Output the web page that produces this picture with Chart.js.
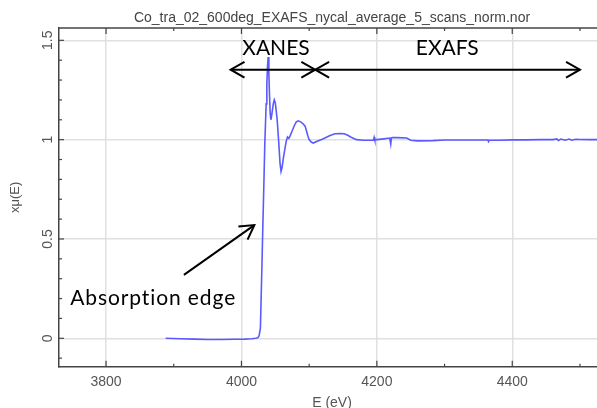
<!DOCTYPE html>
<html>
<head>
<meta charset="utf-8">
<script src="https://cdn.jsdelivr.net/npm/chart.js@4.4.1/dist/chart.umd.min.js"></script>
<style>
  html, body { margin: 0; padding: 0; overflow: hidden; background: #fff; }
  #wrap { width: 605px; height: 416px; }
</style>
</head>
<body>
<div id="wrap"><canvas id="chart" width="605" height="416"></canvas></div>
<script>
const chartTitle = "Co_tra_02_600deg_EXAFS_nycal_average_5_scans_norm.nor";
const xTitle = "E (eV)";
const yTitle = "xμ(E)";

// normalised absorption
const energy = [
  3888, 3910, 3930, 3950, 3970, 3990, 4005, 4015, 4021, 4024,
  4026, 4028, 4030, 4031.5, 4033, 4034.5, 4035.5, 4036.5, 4037.5, 4038.5,
  4039.5, 4040.5, 4041.5, 4042.5, 4043.5, 4045, 4047, 4048.5, 4050, 4051.5,
  4053, 4055, 4057, 4058.5, 4060, 4062, 4064, 4066, 4068, 4070,
  4072, 4075, 4078, 4081, 4084, 4088, 4091, 4094, 4096, 4098,
  4100, 4103, 4106, 4112, 4121, 4130, 4138, 4146, 4152, 4157,
  4162, 4170, 4180, 4190, 4195, 4196, 4197, 4200, 4210, 4219,
  4220.5, 4221.5, 4223, 4230, 4244, 4250, 4260, 4283, 4300, 4320,
  4340, 4364, 4365, 4366, 4380, 4400, 4420, 4440, 4460, 4466,
  4468, 4472, 4478, 4484, 4488, 4494, 4500, 4515, 4540
];
const muNorm = [
  0.0, -0.002, -0.004, -0.006, -0.006, -0.005, -0.004, -0.002, 0.0, 0.002,
  0.012, 0.05, 0.33, 0.55, 0.76, 0.98, 1.08, 1.18, 1.28, 1.37,
  1.416, 1.33, 1.22, 1.13, 1.10, 1.13, 1.18, 1.20, 1.185, 1.14,
  1.09, 0.99, 0.88, 0.84, 0.86, 0.91, 0.95, 0.99, 1.013, 1.006,
  1.02, 1.045, 1.07, 1.09, 1.095, 1.088, 1.08, 1.068, 1.045, 1.02,
  1.0, 0.988, 0.983, 0.992, 1.005, 1.02, 1.03, 1.031, 1.03, 1.022,
  1.012, 1.0, 0.997, 0.997, 0.998, 1.012, 0.998, 1.0, 1.004, 1.008,
  0.978, 1.009, 1.01, 1.01, 1.008, 0.997, 0.994, 0.995, 0.998, 0.998,
  0.998, 0.998, 0.99, 0.997, 0.997, 0.999, 0.999, 1.0, 1.0, 1.004,
  0.996, 1.003, 0.997, 1.003, 0.997, 1.002, 1.001, 1.0, 1.0
];

// tick positions (all) and the labelled ones
const xTickValues = [3800, 3900, 4000, 4100, 4200, 4300, 4400, 4500];
const xMajorTicks = [3800, 4000, 4200, 4400];
const yTickValues = [-0.1, 0, 0.1, 0.2, 0.3, 0.4, 0.5, 0.6, 0.7, 0.8, 0.9, 1, 1.1, 1.2, 1.3, 1.4, 1.5];
const yMajorTicks = [0, 0.5, 1, 1.5];

// annotations, in data units
const regionLabels = [
  { text: "XANES", e: 4051, v: 1.424 },
  { text: "EXAFS", e: 4304, v: 1.424 }
];
const regionArrows = [[3984, 4109], [4109, 4500]];
const arrowLevel = 1.352;
const edgeLabel = { text: "Absorption edge", e: 3747, v: 0.168 };
const edgeArrow = { from: [3915, 0.319], to: [4019, 0.570] };

const sans = "'Liberation Sans', Arial, sans-serif";
const noteFont = "21px Lato, 'Open Sans', sans-serif";

function arrowHead(ctx, x0, y0, x1, y1, size) {
  const a = Math.atan2(y1 - y0, x1 - x0);
  ctx.beginPath();
  ctx.moveTo(x1 - size * Math.cos(a - 0.52), y1 - size * Math.sin(a - 0.52));
  ctx.lineTo(x1, y1);
  ctx.lineTo(x1 - size * Math.cos(a + 0.52), y1 - size * Math.sin(a + 0.52));
  ctx.stroke();
}

const framePlugin = {
  id: "frame",
  afterDraw(chart) {
    const ctx = chart.ctx;
    const xs = chart.scales.x, ys = chart.scales.y;
    const area = chart.chartArea;
    ctx.save();

    // top border + inward tick marks
    ctx.strokeStyle = "#444";
    ctx.lineWidth = 1.5;
    ctx.beginPath();
    ctx.moveTo(area.left, area.top);
    ctx.lineTo(area.right, area.top);
    ctx.stroke();
    ctx.lineWidth = 1.2;
    xTickValues.forEach(v => {
      const px = xs.getPixelForValue(v);
      const len = xMajorTicks.includes(v) ? 6 : 3;
      ctx.beginPath();
      ctx.moveTo(px, area.bottom); ctx.lineTo(px, area.bottom - len);
      ctx.moveTo(px, area.top); ctx.lineTo(px, area.top + len);
      ctx.stroke();
    });
    yTickValues.forEach(v => {
      const py = ys.getPixelForValue(v);
      const len = yMajorTicks.includes(v) ? 5 : 3;
      ctx.beginPath();
      ctx.moveTo(area.left, py); ctx.lineTo(area.left + len, py);
      ctx.stroke();
    });

    // rotated y tick labels
    ctx.fillStyle = "#555";
    ctx.font = "14px " + sans;
    ctx.textAlign = "center";
    ctx.textBaseline = "alphabetic";
    yMajorTicks.forEach(v => {
      const py = ys.getPixelForValue(v);
      ctx.save();
      ctx.translate(area.left - 7, py);
      ctx.rotate(-Math.PI / 2);
      ctx.fillText(String(v), 0, 0);
      ctx.restore();
    });

    // title
    ctx.fillStyle = "#444";
    ctx.font = "14px " + sans;
    ctx.fillText(chartTitle, (area.left + area.right) / 2, 22);

    // annotations
    ctx.fillStyle = "#000";
    ctx.strokeStyle = "#000";
    ctx.font = noteFont;
    ctx.lineWidth = 2;
    regionLabels.forEach(l => {
      ctx.textAlign = "center";
      ctx.fillText(l.text, xs.getPixelForValue(l.e), ys.getPixelForValue(l.v));
    });
    const ay = ys.getPixelForValue(arrowLevel);
    regionArrows.forEach(([e0, e1]) => {
      const x0 = xs.getPixelForValue(e0), x1 = xs.getPixelForValue(e1);
      ctx.beginPath();
      ctx.moveTo(x0, ay); ctx.lineTo(x1, ay);
      ctx.stroke();
      arrowHead(ctx, x1, ay, x0, ay, 16);
      arrowHead(ctx, x0, ay, x1, ay, 16);
    });
    ctx.textAlign = "left";
    ctx.letterSpacing = "0.9px";
    ctx.fillText(edgeLabel.text, xs.getPixelForValue(edgeLabel.e), ys.getPixelForValue(edgeLabel.v));
    ctx.letterSpacing = "0px";
    const fx = xs.getPixelForValue(edgeArrow.from[0]), fy = ys.getPixelForValue(edgeArrow.from[1]);
    const tx = xs.getPixelForValue(edgeArrow.to[0]), ty = ys.getPixelForValue(edgeArrow.to[1]);
    ctx.beginPath();
    ctx.moveTo(fx, fy); ctx.lineTo(tx, ty);
    ctx.stroke();
    arrowHead(ctx, fx, fy, tx, ty, 16);

    ctx.restore();
  }
};

const points = energy.map((e, i) => ({ x: e, y: muNorm[i] }));

new Chart(document.getElementById("chart"), {
  type: "line",
  data: {
    datasets: [{
      data: points,
      borderColor: "#5a5aff",
      borderWidth: 1.6,
      pointRadius: 0,
      tension: 0,
      fill: false
    }]
  },
  options: {
    responsive: false,
    devicePixelRatio: 1,
    animation: false,
    layout: { padding: { top: 28, right: 0, left: 0, bottom: 0 } },
    plugins: { legend: { display: false }, tooltip: { enabled: false }, title: { display: false } },
    scales: {
      x: {
        type: "linear",
        min: 3730.5,
        max: 4537,
        afterBuildTicks: s => { s.ticks = xTickValues.map(v => ({ value: v })); },
        afterFit: s => { s.height = 49.3; },
        ticks: {
          autoSkip: false,
          maxRotation: 0,
          minRotation: 0,
          padding: 7,
          color: "#555",
          font: { family: sans, size: 14 },
          callback: v => xMajorTicks.includes(v) ? String(v) : ""
        },
        grid: {
          drawTicks: false,
          lineWidth: 1.5,
          color: c => c.tick && xMajorTicks.includes(c.tick.value) ? "#e0e0e0" : "rgba(0,0,0,0)"
        },
        border: { color: "#444", width: 1.5 },
        title: {
          display: true,
          text: xTitle,
          color: "#555",
          font: { family: sans, size: 14 },
          padding: { top: 4, bottom: 4 }
        }
      },
      y: {
        type: "linear",
        min: -0.143,
        max: 1.562,
        afterBuildTicks: s => { s.ticks = yTickValues.map(v => ({ value: v })); },
        afterFit: s => { s.width = 59; },
        ticks: { display: false },
        grid: {
          drawTicks: false,
          lineWidth: 1.5,
          color: c => c.tick && yMajorTicks.includes(c.tick.value) ? "#e0e0e0" : "rgba(0,0,0,0)"
        },
        border: { color: "#444", width: 1.5 },
        title: {
          display: true,
          text: yTitle,
          color: "#555",
          font: { family: sans, size: 13 },
          padding: { top: 8, bottom: 0 }
        }
      }
    }
  },
  plugins: [framePlugin]
});
</script>
</body>
</html>
